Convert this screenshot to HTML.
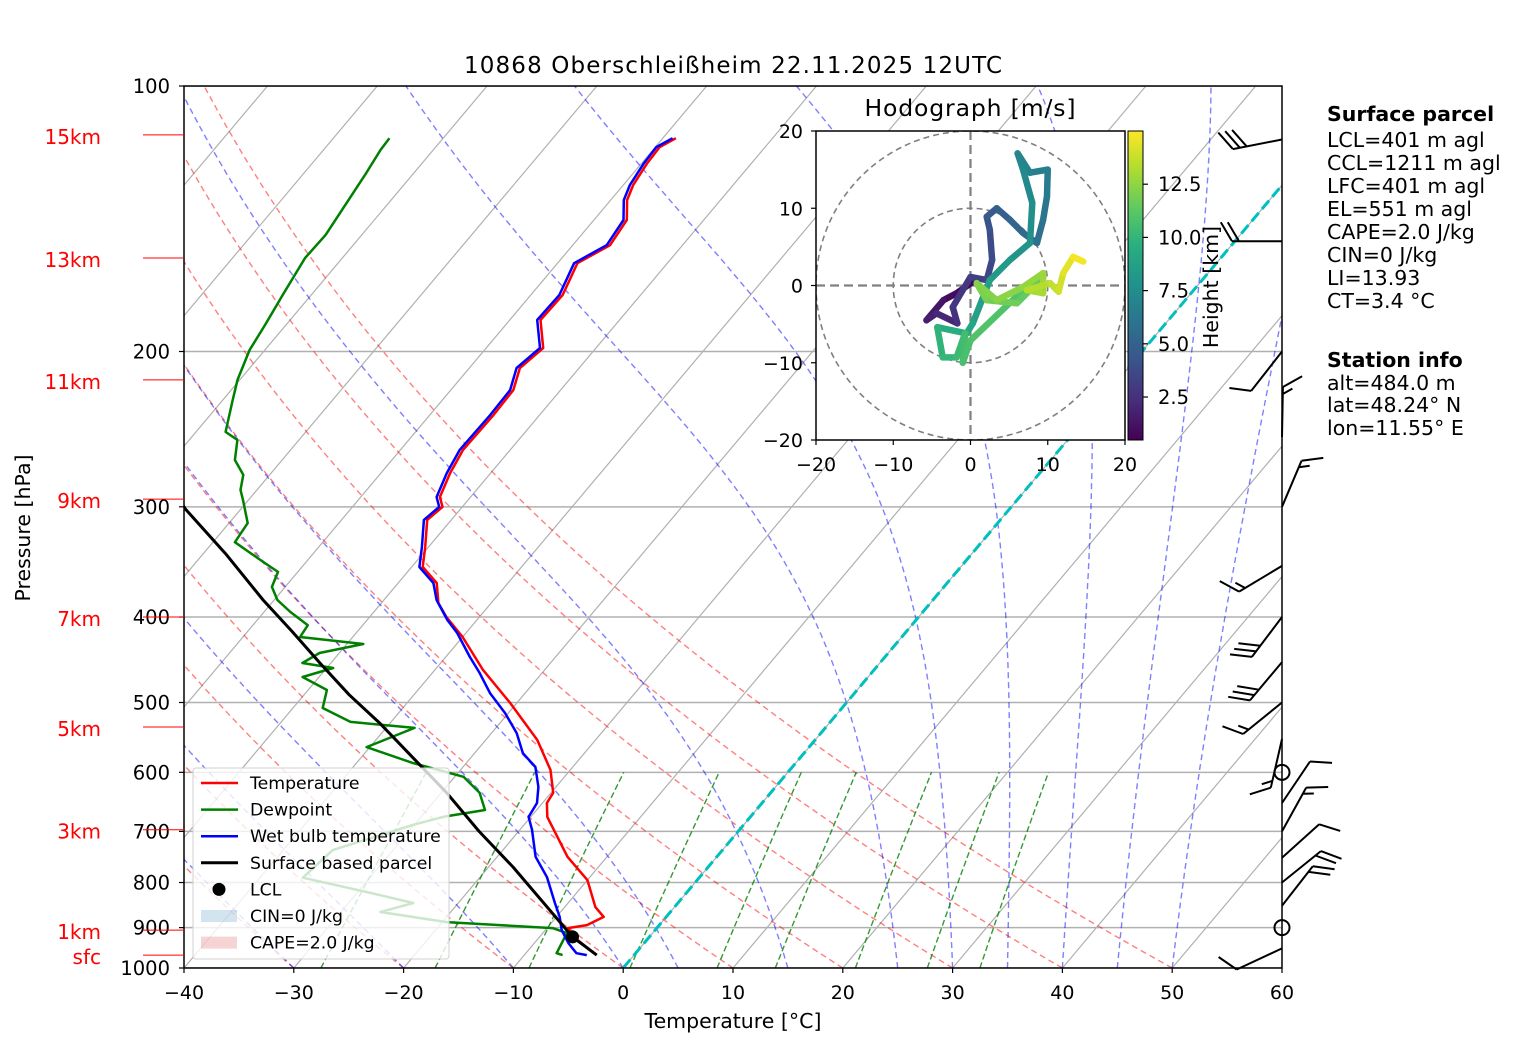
<!DOCTYPE html>
<html><head><meta charset="utf-8"><style>
html,body{margin:0;padding:0;background:#fff;}
svg{display:block;font-family:"DejaVu Sans","Liberation Sans",sans-serif;}
</style></head><body>
<svg id="chart" width="1517" height="1054" viewBox="0 0 1517 1054" xmlns="http://www.w3.org/2000/svg">
<defs>
<clipPath id="plotclip"><rect x="184" y="86" width="1098" height="882"/></clipPath>
<clipPath id="hodoclip"><rect x="816" y="131" width="309" height="309"/></clipPath>
<linearGradient id="viridis" x1="0" y1="1" x2="0" y2="0">
<stop offset="0" stop-color="#440154"/><stop offset="0.125" stop-color="#472d7b"/><stop offset="0.25" stop-color="#3b528b"/><stop offset="0.375" stop-color="#2c728e"/><stop offset="0.5" stop-color="#21918c"/><stop offset="0.625" stop-color="#28ae80"/><stop offset="0.75" stop-color="#5ec962"/><stop offset="0.875" stop-color="#addc30"/><stop offset="1" stop-color="#fde725"/>
</linearGradient>
</defs>
<rect width="1517" height="1054" fill="#fff"/>
<text x="733" y="73" text-anchor="middle" font-size="23" textLength="538">10868 Oberschleißheim 22.11.2025 12UTC</text>
<g id="bg" clip-path="url(#plotclip)"></g>
<g id="series" clip-path="url(#plotclip)"></g>
<rect x="184" y="86" width="1098" height="882" fill="none" stroke="#000" stroke-width="1.5"/>
<g id="axes"></g>
<g id="barbs"></g>
<g id="legend"></g>
<g id="hodo"></g>
<g id="info" font-size="20.5">
<text x="1327" y="121" font-weight="bold">Surface parcel</text>
<text x="1327" y="147">LCL=401 m agl</text>
<text x="1327" y="170">CCL=1211 m agl</text>
<text x="1327" y="193">LFC=401 m agl</text>
<text x="1327" y="216">EL=551 m agl</text>
<text x="1327" y="239">CAPE=2.0 J/kg</text>
<text x="1327" y="262">CIN=0 J/kg</text>
<text x="1327" y="285">LI=13.93</text>
<text x="1327" y="308">CT=3.4 °C</text>
<text x="1327" y="367" font-weight="bold">Station info</text>
<text x="1327" y="390">alt=484.0 m</text>
<text x="1327" y="412">lat=48.24° N</text>
<text x="1327" y="435">lon=11.55° E</text>
</g>
</svg>
<script>
// ---- data ----
const tP=[114.6,117.3,122.3,129.5,134.7,141.9,151.5,158.8,172.6,184.2,198.2,208.8,221.2,236,258.7,274.7,292.4,300.1,310.4,333.2,351,366,385.7,400,421.4,459.4,500.7,551.4,596.3,633,650,674,748,795,853,875,894,901,922,967];
const tT=[-58.8,-59.6,-59.5,-59.1,-58.5,-57.0,-56.6,-58.2,-57.1,-57.2,-54.8,-55.4,-54.3,-54.2,-54.3,-53.7,-52.8,-51.8,-52.2,-50.3,-49.0,-46.5,-44.8,-43.0,-40.0,-35.6,-30.6,-25.3,-21.8,-19.8,-19.6,-18.5,-13.6,-10.0,-7.2,-5.7,-6.6,-8.1,-6.9,-3.4];
const wbP=[114.6,117.3,122.3,129.5,134.7,141.9,151.5,158.8,172.6,184.2,198.2,208.8,221.2,236,258.7,274.7,292.4,300.1,310.4,333.2,351,366,382.6,403,417,444,462.8,487.9,514,541.6,570.7,591.7,623.4,650,674,697,748,789,844,875,906,937,962,967];
const wbT=[-59.1,-59.9,-59.8,-59.4,-58.8,-57.3,-56.9,-58.5,-57.4,-57.5,-55.1,-55.7,-54.6,-54.5,-54.6,-54.0,-53.1,-52.1,-52.5,-50.6,-49.3,-46.8,-45.2,-42.7,-40.8,-37.8,-35.7,-33.2,-30.3,-27.7,-25.6,-23.4,-21.6,-20.5,-20.2,-18.9,-16.5,-13.9,-11.2,-9.7,-8.5,-6.9,-5.4,-4.3];
const dP=[114.6,118.2,126.2,136.4,147.5,156.7,172.6,186.6,199.2,215.4,227,246.7,252,265.5,276,287,294.7,313,329,346.5,355.6,369.8,382.6,394.8,408.6,421.4,429.2,439.4,451,457,467.8,483.9,507.2,526,534.3,561.7,585.4,607,633,662,674,688,735,790,820,844,864,887,901,913,962,967];
const dT=[-84.9,-84.8,-84.3,-83.8,-83.3,-83.4,-82.6,-81.9,-81.4,-80.2,-79.1,-77.3,-75.6,-74.3,-72.4,-71.5,-70.5,-68.3,-68.0,-63.9,-61.8,-61.2,-59.7,-57.6,-55.0,-54.8,-48.5,-51.8,-52.6,-49.4,-51.5,-48.3,-47.3,-43.7,-37.4,-40.3,-34.9,-29.2,-26.5,-24.7,-28.0,-30.1,-35.5,-36.1,-29.2,-24.1,-26.4,-19.6,-9.5,-7.8,-7.2,-6.5];
const parcelP=[967,922,850,768,700,633,580,528,490,451,415,382.6,340,302,250];
const parcelT=[-3.4,-7.0,-11.8,-17.8,-23.6,-29.5,-35.0,-40.9,-45.9,-51.0,-56.0,-61.0,-67.8,-75.0,-85.0];
const lclP=[922], lclT=[-7.0];
const barbP=[115,150,200,250,300,350,400,450,500,550,650,700,750,800,850,950];
const barbDir=[259,270,218,1,23,239,217,220,231,193,34,29,48,51,38,245];
const barbSpd=[30,20,10,15,15,15,30,30,15,15,10,15,10,20,20,10];
const calmP=[600,900];
const hodoU=[0.6,-1.8,-3.5,-5.7,-4.4,-1.7,-2.3,0,2.1,2.8,2.5,2.1,3.4,5.1,6.8,8.6,9.4,9.9,10.0,7.7,6.1,6.8,8.0,7.7,5.1,2.5,0.3,-0.5,-4.3,-3.6,-1.8,-0.7,-1.0,0,6.4,9.4,6.0,2.1,0.8,3.4,6.8,9.4,9.4,7.3,10.3,11.4,12.0,13.3,14.6];
const hodoV=[0.7,-1.0,-1.9,-4.5,-3.6,-4.9,-2.8,1.1,0.7,3.3,7.2,8.9,10.0,8.5,6.8,5.5,8.5,11.5,15.0,14.6,17.1,15.0,10.7,5.5,3.3,0.7,-4.9,-6.2,-5.4,-9.3,-9.3,-6.2,-10.0,-7.1,-1.0,1.1,-2.3,-1.9,0.3,-1.9,-0.2,1.6,-1.0,-0.6,0.3,-0.8,1.6,3.7,3.1];
const hodoH=[0.5,0.8,1.1,1.5,1.9,2.3,2.7,3.0,3.3,3.6,4.0,4.4,4.8,5.1,5.4,5.7,6.0,6.3,6.6,6.8,7.0,7.2,7.5,7.8,8.1,8.5,8.9,9.3,9.7,10.0,10.2,10.4,10.6,10.8,11.0,11.3,11.6,11.9,12.1,12.3,12.5,12.7,12.9,13.2,13.5,13.8,14.2,14.6,15.0];
const pTicks=[100,200,300,400,500,600,700,800,900,1000];
const tTicks=[-40,-30,-20,-10,0,10,20,30,40,50,60];
const heightLabels=["15km","13km","11km","9km","7km","5km","3km","1km","sfc"];
const heightP=[113.6,156.7,215.4,294,400,533,697,906,967];
const mixRatios=[0.4,1,2,4,7,10,16,24,32];
const dryThetas=[-30,-20,-10,0,10,20,30,40,50];
const moistT0=[-30,-20,-10,0,5,15,25,30,35,40,45,50];
const hodoTicks=[-20,-10,0,10,20];
const cbTicks=[2.5,5.0,7.5,10.0,12.5];

// ---- scales ----
const X0=184,X1=1282,Y0=86,Y1=968,SKEW=0.8416,PX=10.98;
function yOf(p){return Y1-882*Math.log10(1000/p);}
function xOf(T,p){return X0+(T+40)*PX+(Y1-yOf(p))*SKEW;}
const NS="http://www.w3.org/2000/svg";
function mk(tag,attrs,parent){const e=document.createElementNS(NS,tag);for(const k in attrs)e.setAttribute(k,attrs[k]);parent.appendChild(e);return e;}
const bg=document.getElementById('bg'),series=document.getElementById('series'),axes=document.getElementById('axes');

for(let T=-160;T<=60;T+=10){
 const l=mk('line',{x1:xOf(T,1000),y1:yOf(1000),x2:xOf(T,100),y2:yOf(100),stroke:'#b0b0b0','stroke-width':1.2},bg);
 
 
}
for(const p of pTicks){
 const l=mk('line',{x1:X0,y1:yOf(p),x2:X1,y2:yOf(p),stroke:'#b0b0b0','stroke-width':1.5},bg);
 
 
}
for(const th of dryThetas){
 let d='';
 for(let p=1000;p>=100;p-=10){const T=(th+273.15)*Math.pow(p/1000,0.2857)-273.15;d+=(d?'L':'M')+xOf(T,p).toFixed(1)+','+yOf(p).toFixed(1);}
 const e=mk('path',{d:d,fill:'none',stroke:'#ff0000','stroke-opacity':0.5,'stroke-width':1.4,'stroke-dasharray':'6,4'},bg);
 
 
}
function es(Tc){return 6.112*Math.exp(17.67*Tc/(Tc+243.5));}
function moistRate(T,p){const Rd=287.04,Cp=1005.7,Lv=2.501e6,eps=0.622;const e=es(T-273.15);const rs=eps*e/(p-e);return (1/p)*(Rd*T+Lv*rs)/(Cp+Lv*Lv*rs*eps/(Rd*T*T));}
for(const t0 of moistT0){
 let T=t0+273.15,d='';
 for(let p=1000;p>=100;p-=2){
  d+=(d?'L':'M')+xOf(T-273.15,p).toFixed(1)+','+yOf(p).toFixed(1);
  const k1=moistRate(T,p);const k2=moistRate(T-k1,p-1);T-=2*(k1+k2)/2;
 }
 const e=mk('path',{d:d,fill:'none',stroke:'#0000ff','stroke-opacity':0.5,'stroke-width':1.4,'stroke-dasharray':'6,4'},bg);
 
 
}
for(const w of mixRatios){
 let d='';
 for(let p=1000;p>=600;p-=20){const e=(w/1000)*p/(0.622+w/1000);const L=Math.log(e/6.112);const Td=243.5*L/(17.67-L);d+=(d?'L':'M')+xOf(Td,p).toFixed(1)+','+yOf(p).toFixed(1);}
 const e=mk('path',{d:d,fill:'none',stroke:'#008000','stroke-opacity':0.8,'stroke-width':1.4,'stroke-dasharray':'6,3'},bg);
 
 
}
{const e=mk('line',{x1:xOf(0,1000),y1:yOf(1000),x2:xOf(0,100),y2:yOf(100),stroke:'#00bfbf','stroke-width':3,'stroke-dasharray':'11,5'},bg);
 
 }

function profile(P,T,color,w,name){
 let d='';for(let i=0;i<P.length;i++)d+=(i?'L':'M')+xOf(T[i],P[i]).toFixed(1)+','+yOf(P[i]).toFixed(1);
 const e=mk('path',{d:d,fill:'none',stroke:color,'stroke-width':w,'stroke-linejoin':'round'},series);
 
 
}
profile(tP,tT,'#ff0000',2.5,'temperature-line');
profile(dP,dT,'#008000',2.5,'dewpoint-line');
profile(wbP,wbT,'#0000ff',2.5,'wet-bulb-line');
profile(parcelP,parcelT,'#000000',3,'parcel-line');
{const e=mk('circle',{cx:xOf(lclT[0],lclP[0]),cy:yOf(lclP[0]),r:6.5,fill:'#000'},series);
 
 }

for(const p of pTicks){
 const y=yOf(p);
 mk('line',{x1:X0-5,y1:y,x2:X0,y2:y,stroke:'#000','stroke-width':1.2},axes);
 const t=mk('text',{x:170,y:y+7,'text-anchor':'end','font-size':19.5},axes);t.textContent=p;
 
 
}
for(const T of tTicks){
 const x=X0+(T+40)*PX;
 mk('line',{x1:x,y1:Y1,x2:x,y2:Y1+5,stroke:'#000','stroke-width':1.2},axes);
 const t=mk('text',{x:x,y:999,'text-anchor':'middle','font-size':19},axes);t.textContent=(T<0?'\u2212'+(-T):T);
 
 
}
heightLabels.forEach((lab,i)=>{
 const y=yOf(heightP[i]);
 mk('line',{x1:143,y1:y,x2:184,y2:y,stroke:'#ff0000','stroke-width':1},axes);
 const t=mk('text',{x:101,y:y+9,'text-anchor':'end','font-size':20,fill:'#ff0000'},axes);t.textContent=lab;
 
 
});
{const t=mk('text',{x:733,y:1028,'text-anchor':'middle','font-size':20.5},axes);t.textContent='Temperature [°C]';
 
 
 const t2=mk('text',{x:30,y:528,'text-anchor':'middle','font-size':20.5,transform:'rotate(-90 30 528)'},axes);t2.textContent='Pressure [hPa]';
 
 }

const bg2=document.getElementById('barbs');
barbP.forEach((p,i)=>{
 const y=yOf(p),x=X1;const r=barbDir[i]*Math.PI/180;
 const sx=Math.sin(r),sy=-Math.cos(r);const L=50;
 const tx=x+sx*L,ty=y+sy*L;
 let d='M'+x+','+y.toFixed(1)+'L'+tx.toFixed(1)+','+ty.toFixed(1);
 let bx=0.85*(-sy)+0.5*sx,by=0.85*sx+0.5*sy;const bn=Math.hypot(bx,by);bx/=bn;by/=bn;
 let spd=barbSpd[i],k=0;
 const full=Math.floor(spd/10),half=(spd%10)>=5?1:0;
 for(let j=0;j<full;j++){const px=tx-sx*7*k,py=ty-sy*7*k;d+='M'+px.toFixed(1)+','+py.toFixed(1)+'l'+(bx*22).toFixed(1)+','+(by*22).toFixed(1);k++;}
 if(half){if(k===0)k=1;const px=tx-sx*7*k,py=ty-sy*7*k;d+='M'+px.toFixed(1)+','+py.toFixed(1)+'l'+(bx*11).toFixed(1)+','+(by*11).toFixed(1);}
 const e=mk('path',{d:d,fill:'none',stroke:'#000','stroke-width':2},bg2);
 
 
});
calmP.forEach(p=>{
 const e=mk('circle',{cx:X1,cy:yOf(p),r:7.5,fill:'none',stroke:'#000','stroke-width':2},bg2);
 
 
});

const lg=document.getElementById('legend');
mk('rect',{x:193,y:768,width:256,height:191,rx:3,fill:'#fff','fill-opacity':0.8,stroke:'#d0d0d0','stroke-width':1},lg);
const legItems=[['line','#ff0000','Temperature'],['line','#008000','Dewpoint'],['line','#0000ff','Wet bulb temperature'],['line','#000','Surface based parcel'],['dot','#000','LCL'],['patch','rgba(31,119,180,0.2)','CIN=0 J/kg'],['patch','rgba(214,39,40,0.2)','CAPE=2.0 J/kg']];
legItems.forEach((it,i)=>{
 const y=783+26.6*i;
 if(it[0]==='line')mk('line',{x1:201,y1:y,x2:238,y2:y,stroke:it[1],'stroke-width':it[2]==='Surface based parcel'?3:2.5},lg);
 else if(it[0]==='dot')mk('circle',{cx:219,cy:y,r:6.5,fill:'#000'},lg);
 else mk('rect',{x:201,y:y-6,width:36,height:12,fill:it[1]},lg);
 const t=mk('text',{x:250,y:y+6,'font-size':17.3},lg);t.textContent=it[2];
 
 
});

const hg=document.getElementById('hodo');
const HX=970.5,HY=285.5,HS=309/40;
function hx(u){return HX+u*HS;} function hy(v){return HY-v*HS;}
mk('rect',{x:816,y:131,width:309,height:309,fill:'#fff'},hg);
const hin=mk('g',{'clip-path':'url(#hodoclip)'},hg);
[10,20].forEach(r=>{const c=mk('circle',{cx:HX,cy:HY,r:r*HS,fill:'none',stroke:'#808080','stroke-width':1.6,'stroke-dasharray':'6,4'},hin);
 
 });
mk('line',{x1:816,y1:HY,x2:1125,y2:HY,stroke:'#808080','stroke-width':2.2,'stroke-dasharray':'9,5'},hin);
mk('line',{x1:HX,y1:131,x2:HX,y2:440,stroke:'#808080','stroke-width':2.2,'stroke-dasharray':'9,5'},hin);
const vir=[[68,1,84],[71,45,123],[59,82,139],[44,114,142],[33,145,140],[40,174,128],[94,201,98],[173,220,48],[253,231,37]];
function vcol(h){let t=(h-0.48)/(15.0-0.48);t=Math.max(0,Math.min(1,t))*8;const i=Math.min(7,Math.floor(t)),f=t-i;const a=vir[i],b=vir[i+1];return 'rgb('+a.map((v,j)=>Math.round(v+(b[j]-v)*f)).join(',')+')';}
for(let i=0;i<hodoU.length-1;i++){
 const e=mk('line',{x1:hx(hodoU[i]),y1:hy(hodoV[i]),x2:hx(hodoU[i+1]),y2:hy(hodoV[i+1]),stroke:vcol((hodoH[i]+hodoH[i+1])/2),'stroke-width':6.5,'stroke-linecap':'round'},hin);
 
 
}
mk('rect',{x:816,y:131,width:309,height:309,fill:'none',stroke:'#000','stroke-width':1.5},hg);
hodoTicks.forEach(v=>{
 mk('line',{x1:811,y1:hy(v),x2:816,y2:hy(v),stroke:'#000','stroke-width':1.2},hg);
 const t=mk('text',{x:803,y:hy(v)+7,'text-anchor':'end','font-size':19},hg);t.textContent=(v<0?'\u2212'+(-v):v);
 
 
 mk('line',{x1:hx(v),y1:440,x2:hx(v),y2:445,stroke:'#000','stroke-width':1.2},hg);
 const t2=mk('text',{x:hx(v),y:471,'text-anchor':'middle','font-size':19},hg);t2.textContent=(v<0?'\u2212'+(-v):v);
 
 
});
{const t=mk('text',{x:970,y:116,'text-anchor':'middle','font-size':23.5,textLength:211},hg);t.textContent='Hodograph [m/s]';
 
 }
{const cb=mk('rect',{x:1128,y:131,width:15,height:309,fill:'url(#viridis)',stroke:'#000','stroke-width':1},hg);
 
 }
function cby(h){return 440-(h-0.48)/(15.0-0.48)*309;}
cbTicks.forEach(h=>{
 mk('line',{x1:1143,y1:cby(h),x2:1148,y2:cby(h),stroke:'#000','stroke-width':1.2},hg);
 const t=mk('text',{x:1158,y:cby(h)+7,'font-size':19.5},hg);t.textContent=h.toFixed(1);
 
 
});
{const t=mk('text',{x:1218,y:287,'text-anchor':'middle','font-size':20.5,transform:'rotate(-90 1218 287)'},hg);t.textContent='Height [km]';
 
 }
</script>
</body></html>
